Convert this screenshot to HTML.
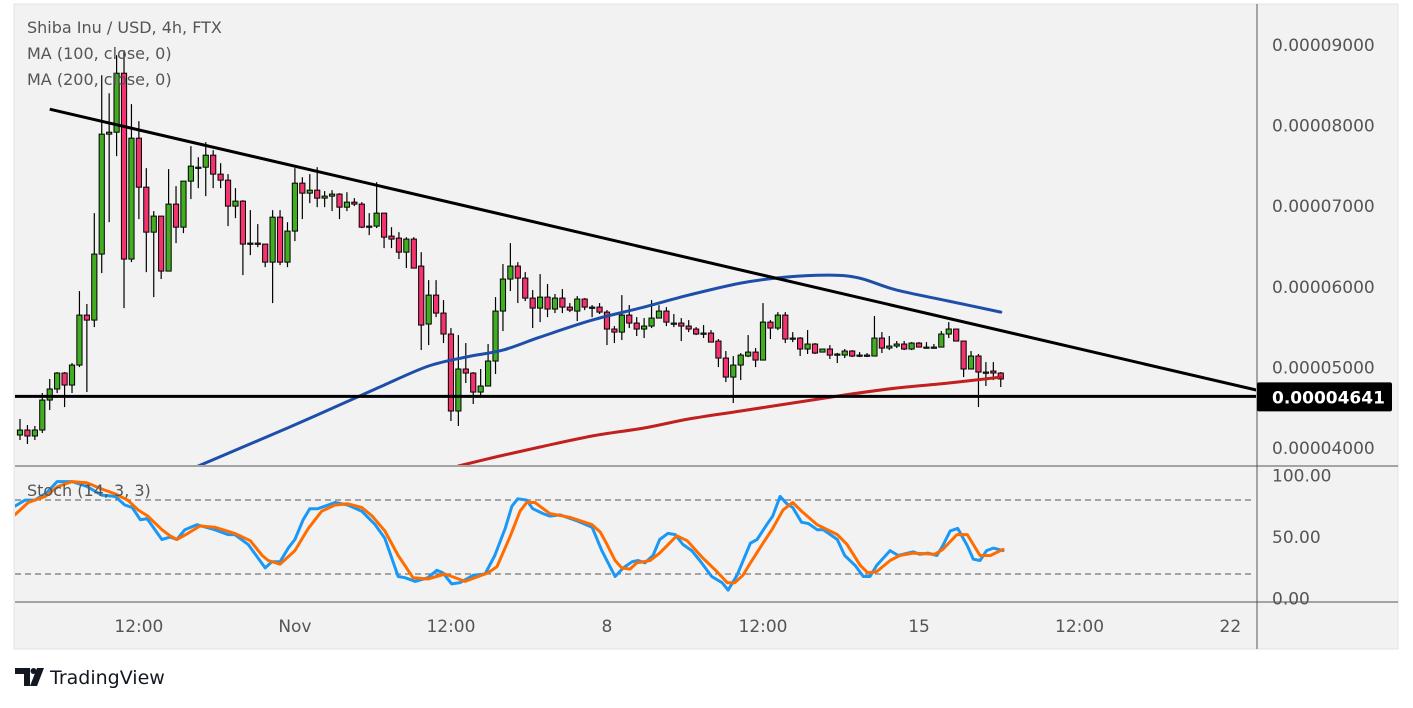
<!DOCTYPE html>
<html><head><meta charset="utf-8">
<style>
html,body{margin:0;padding:0;background:#fff;}
body{width:1413px;height:703px;overflow:hidden;font-family:"Liberation Sans",sans-serif;}
svg text{font-family:"DejaVu Sans","Liberation Sans",sans-serif;}
</style></head>
<body>
<svg id="chart" width="1413" height="703" viewBox="0 0 1413 703" xmlns="http://www.w3.org/2000/svg">
  <rect x="14" y="4" width="1384" height="645" fill="#f2f2f2" stroke="#e0e3eb" stroke-width="1"/>
  <defs>
    <clipPath id="mainClip"><rect x="15" y="5" width="1241" height="460"/></clipPath>
    <clipPath id="stochClip"><rect x="15" y="467" width="1241" height="134"/></clipPath>
  </defs>
  <g id="mainPane" clip-path="url(#mainClip)"></g>
  <g id="stochPane" clip-path="url(#stochClip)"></g>
  <line x1="15" y1="466" x2="1398" y2="466" stroke="#555" stroke-width="1"/>
  <line x1="15" y1="602" x2="1398" y2="602" stroke="#555" stroke-width="1"/>
  <line x1="1257" y1="4" x2="1257" y2="649" stroke="#555" stroke-width="1"/>
  <g id="priceAxis"></g>
  <g id="stochAxis"></g>
  <g id="timeAxis"></g>
  <text x="27" y="33" font-size="16" fill="#555">Shiba Inu / USD, 4h, FTX</text>
  <text x="27" y="59" font-size="16" fill="#555">MA (100, close, 0)</text>
  <text x="27" y="85" font-size="16" fill="#555">MA (200, close, 0)</text>
  <text x="27" y="496" font-size="16" fill="#555">Stoch (14, 3, 3)</text>
  <g>
    <path d="M15 668 H30 V686 H24 V674 H15 Z" fill="#131722"/>
    <circle cx="33.5" cy="671" r="3" fill="#131722"/>
    <path d="M37 668 H44 L37 686 H30 Z" fill="#131722"/>
    <text x="50" y="684" font-size="19" fill="#131722" font-family="Liberation Sans, sans-serif">TradingView</text>
  </g>
</svg>
<script>
// ---- price data (units of 1e-8 USD) ----
const opens=[4161,4223,4149,4223,4595,4732,4930,4781,5029,5649,
5587,6406,7894,7918,8650,6344,7844,7236,6678,6877,
6195,7026,6740,7311,7484,7484,7633,7398,7323,7001,
7063,6530,6542,6530,6306,6864,6306,6691,7286,7162,
7199,7100,7125,7150,6988,7050,7026,6753,6753,6914,
6629,6604,6430,6592,6257,5538,5897,5674,5414,4459,
4980,4930,4694,4769,5079,5699,6096,6257,6108,5860,
5736,5872,5724,5860,5748,5699,5848,5748,5748,5686,
5476,5438,5649,5550,5476,5513,5612,5699,5550,5550,
5513,5476,5426,5426,5327,5116,4880,5029,5141,5190,
5091,5562,5488,5649,5364,5364,5228,5290,5190,5228,
5166,5153,5203,5153,5153,5141,5364,5240,5265,5290,
5228,5302,5252,5252,5252,5414,5476,5327,4980,5141,
4942,4955,4930];
const highs=[4360,4285,4273,4682,4856,4942,4942,5054,5947,5786,
6914,8625,8402,8873,8935,8266,8055,7472,6939,6877,
7460,7249,7311,7745,7608,7794,7695,7534,7398,7224,
7075,6951,6778,6530,6951,6951,6802,7472,7360,7398,
7484,7187,7199,7162,7174,7100,7050,6914,7298,6914,
6740,6678,6616,6616,6430,6083,6083,5835,5488,5401,
5302,4942,4980,5290,5872,6282,6542,6306,6182,5959,
6158,6034,5910,5972,5798,5885,5860,5773,5798,5711,
5513,5897,5773,5624,5612,5835,5773,5748,5662,5612,
5587,5500,5525,5463,5352,5203,5141,5178,5401,5240,
5798,5587,5686,5686,5438,5376,5463,5302,5228,5277,
5180,5228,5215,5190,5178,5637,5438,5389,5327,5327,
5314,5314,5314,5290,5451,5562,5476,5327,5203,5166,
5066,5066,4942];
const lows=[4099,4050,4099,4186,4471,4682,4508,4682,5004,4694,
5500,6170,6802,7621,5736,6306,6840,6182,5872,6096,
6195,6542,6666,7088,7224,7125,7224,7224,6753,6852,
6145,6393,6492,6244,5798,6269,6244,6567,6840,7038,
6988,6988,6939,6840,6939,7001,6728,6641,6728,6480,
6480,6344,6232,6232,5215,5277,5624,5302,4335,4273,
4806,4546,4645,4769,4918,5451,5947,5798,5823,5488,
5562,5624,5674,5674,5686,5575,5711,5624,5662,5277,
5302,5339,5488,5389,5364,5488,5612,5513,5500,5327,
5438,5401,5364,5314,5004,4818,4558,4843,5128,5004,
5091,5352,5463,5302,5314,5141,5166,5166,5190,5104,
5054,5116,5128,5128,5128,5141,5178,5215,5240,5215,
5215,5252,5252,5240,5252,5364,5327,4880,4980,4508,
4769,4843,4756];
const closes=[4223,4149,4223,4595,4732,4930,4781,5029,5649,5587,
6406,7894,7918,8650,6344,7844,7236,6678,6877,6195,
7026,6740,7311,7497,7484,7633,7398,7323,7001,7063,
6530,6542,6530,6306,6864,6306,6691,7286,7162,7199,
7100,7125,7150,6988,7050,7026,6740,6753,6914,6616,
6592,6430,6592,6232,5525,5897,5674,5414,4459,4980,
4930,4694,4769,5079,5699,6096,6257,6108,5860,5736,
5872,5724,5860,5748,5711,5848,5748,5748,5686,5476,
5438,5649,5550,5476,5513,5612,5699,5562,5550,5513,
5476,5414,5426,5314,5116,4880,5029,5153,5190,5091,
5562,5488,5649,5352,5364,5228,5290,5178,5228,5153,
5166,5203,5141,5153,5153,5364,5240,5265,5290,5228,
5302,5252,5252,5252,5414,5476,5327,4980,5141,4942,
4942,4930,4856];
// moving averages sampled at candle indices
const ma100Idx=[24,30,36,43,49,55,60,65,70,77,84,90,97,103,109,113,118,125,132];
const ma100Val=[3777,4012,4248,4533,4781,5017,5128,5215,5376,5587,5748,5897,6046,6120,6145,6108,5959,5823,5686];
const ma200Idx=[59,64,70,77,84,90,97,104,111,118,125,132];
const ma200Val=[3777,3888,4012,4149,4248,4360,4459,4558,4657,4744,4806,4880];
// trendline & support
const trendIdx=[4,166.4];
const trendVal=[8204,4719];
const supportLevel=4641;
// stochastic
const stochKIdx=[-0.7,0.7,2,3.6,5,7,9,11,12.8,14.1,15.1,16.2,17.1,19.1,20.2,21.1,22.2,23.8,26.2,28,28.9,30.7,33,33.9,35,36.1,37,38.1,39,40.1,42.4,44.1,46,47.8,49.1,50.9,51.8,53.2,54.9,56.1,56.9,58.1,59.2,61,62.6,63.9,65.3,66.2,67,68.2,69,70.4,71.3,72.7,75,77,78.3,80.1,81.2,82.4,83.2,84.1,85.2,86.1,87.2,88.2,89.2,90.4,91.5,93.1,94.5,95.3,96.5,98.3,99.2,100.5,101.3,102.3,103.2,104,105.2,106.1,107.3,108.1,110,111,112.4,113.5,114.4,115.3,117.1,118.2,120.2,121.1,122.2,123.4,124.2,125.2,126.2,127.5,128.3,129.2,130.1,131,132.3];
const stochKVal=[75,80,80,86,95,95,91,84,83,76,74,64,65,48,50,48,56,60,56,52,52,44,25,30,30,41,48,64,73,73,78,76,71,60,49,18,17,14,17,23,21,12,13,19,20,35,57,75,81,80,73,69,67,68,63,58,39,18,25,30,31,29,35,48,53,52,44,39,31,18,13,7,19,45,48,60,67,83,77,74,62,61,56,56,48,35,27,18,18,27,39,35,38,36,37,35,43,55,57,43,32,31,39,41,39];
const stochDIdx=[-0.7,1.1,3.4,5.1,7,9,11,12.8,14.5,15.9,17.2,19.1,20.2,21.1,22.6,24.2,26.2,28.9,31,32.6,33.4,35,37,38.8,40.6,42.4,44.1,46,47.4,49.1,50.9,52.9,54.9,57.2,59.9,63,64.2,66,67.3,68.2,69.3,71.3,74,77,78.1,79,80.1,81,82.1,83,84.8,86.1,88.4,89.8,91.9,93.8,95.2,96.2,97.3,98.3,100,101.3,102.7,104,105.2,107.3,110,111.3,113.1,114.1,115.3,117.1,118.4,120.2,123.1,124.2,126.1,127.5,129.2,130.6,132.3];
const stochDVal=[68,78,83,91,95,94,89,85,80,72,67,56,51,48,53,59,58,53,47,35,31,28,39,57,71,76,77,74,67,55,35,17,16,20,14,21,26,51,71,78,78,69,66,60,54,44,31,25,24,29,31,37,51,47,33,22,13,13,19,29,45,57,72,78,71,60,52,44,27,21,22,31,35,37,36,40,52,52,35,35,40];
// axes
const priceTicks=[4000,5000,6000,7000,8000,9000];
const priceTickLabels=["0.00004000","0.00005000","0.00006000","0.00007000","0.00008000","0.00009000"];
const stochTicks=[0,50,100];
const stochTickLabels=["0.00","50.00","100.00"];
const timeTickIdx=[16,37,58,79,100,121,142.6,162.9];
const timeTickLabels=["12:00","Nov","12:00","8","12:00","15","12:00","22"];

const NS="http://www.w3.org/2000/svg";
const X=i=>20+i*7.43;
const Y=p=>448-(p-4000)*0.0806;
const SY=v=>598.7-v*1.233;
function mk(tag,attrs,parent){const e=document.createElementNS(NS,tag);for(const k in attrs)e.setAttribute(k,attrs[k]);parent.appendChild(e);return e;}

const main=document.getElementById('mainPane');
for(let i=0;i<opens.length;i++){
  const up=closes[i]>=opens[i];
  const g=mk('g',{},main);
  
  
  const x=X(i);
  mk('line',{x1:x,x2:x,y1:Y(highs[i]),y2:Y(lows[i]),stroke:'#000','stroke-width':1.2},g);
  const top=Y(Math.max(opens[i],closes[i])),bot=Y(Math.min(opens[i],closes[i]));
  mk('rect',{x:x-2.6,y:top,width:5.2,height:Math.max(1.2,bot-top),fill:up?'#43ad22':'#f2336d',stroke:'#000','stroke-width':1},g);
}
function poly(idx,val,yf,color,w,parent,name){
  const pts=idx.map((d,k)=>X(d).toFixed(1)+','+yf(val[k]).toFixed(1)).join(' ');
  const p=mk('polyline',{points:pts,fill:'none',stroke:color,'stroke-width':w,'stroke-linejoin':'round','stroke-linecap':'round'},parent);
  
  
  return p;
}
function smooth(idx,val,yf,color,w,parent,name){
  const P=idx.map((d,k)=>[X(d),yf(val[k])]);
  let d='M'+P[0][0].toFixed(1)+','+P[0][1].toFixed(1);
  for(let k=0;k<P.length-1;k++){
    const p0=P[Math.max(0,k-1)],p1=P[k],p2=P[k+1],p3=P[Math.min(P.length-1,k+2)];
    const c1=[p1[0]+(p2[0]-p0[0])/6,p1[1]+(p2[1]-p0[1])/6];
    const c2=[p2[0]-(p3[0]-p1[0])/6,p2[1]-(p3[1]-p1[1])/6];
    d+=' C'+c1.map(v=>v.toFixed(1)).join(',')+' '+c2.map(v=>v.toFixed(1)).join(',')+' '+p2.map(v=>v.toFixed(1)).join(',');
  }
  const p=mk('path',{d:d,fill:'none',stroke:color,'stroke-width':w,'stroke-linecap':'round'},parent);
  
  
  return p;
}
smooth(ma100Idx,ma100Val,Y,'#1e4fa8',3,main,'ma100-line');
smooth(ma200Idx,ma200Val,Y,'#c0201f',3,main,'ma200-line');
const sup=mk('line',{x1:15,x2:1256,y1:Y(supportLevel),y2:Y(supportLevel),stroke:'#000','stroke-width':3},main);


const tr=mk('line',{x1:X(trendIdx[0]),y1:Y(trendVal[0]),x2:X(trendIdx[1]),y2:Y(trendVal[1]),stroke:'#000','stroke-width':3},main);



const st=document.getElementById('stochPane');
[80,20].forEach(v=>{
  const l=mk('line',{x1:15,x2:1253,y1:SY(v),y2:SY(v),stroke:'#555','stroke-width':1,'stroke-dasharray':'6,4'},st);
  
  
});
poly(stochKIdx,stochKVal,SY,'#1a98f5',3,st,'stoch-k-line');
poly(stochDIdx,stochDVal,SY,'#ff6d00',3,st,'stoch-d-line');

const pa=document.getElementById('priceAxis');
priceTicks.forEach((p,k)=>{
  const t=mk('text',{x:1272,y:Y(p)+6,'font-size':17,fill:'#555'},pa);
  t.textContent=priceTickLabels[k];
  
  
});
const badge=mk('rect',{x:1257,y:Y(supportLevel)-14,width:135,height:29,rx:2,fill:'#000'},pa);


const bt=mk('text',{x:1272,y:Y(supportLevel)+7,'font-size':17,fill:'#fff','font-weight':'bold'},pa);
bt.textContent='0.0000'+supportLevel;



const sa=document.getElementById('stochAxis');
stochTicks.forEach((v,k)=>{
  const t=mk('text',{x:1272,y:SY(v)+6,'font-size':17,fill:'#555'},sa);
  t.textContent=stochTickLabels[k];
  
  
});

const ta=document.getElementById('timeAxis');
timeTickIdx.forEach((d,k)=>{
  const t=mk('text',{x:X(d),y:632,'font-size':17,fill:'#555','text-anchor':'middle'},ta);
  t.textContent=timeTickLabels[k];
  
  
});
</script>
</body></html>
